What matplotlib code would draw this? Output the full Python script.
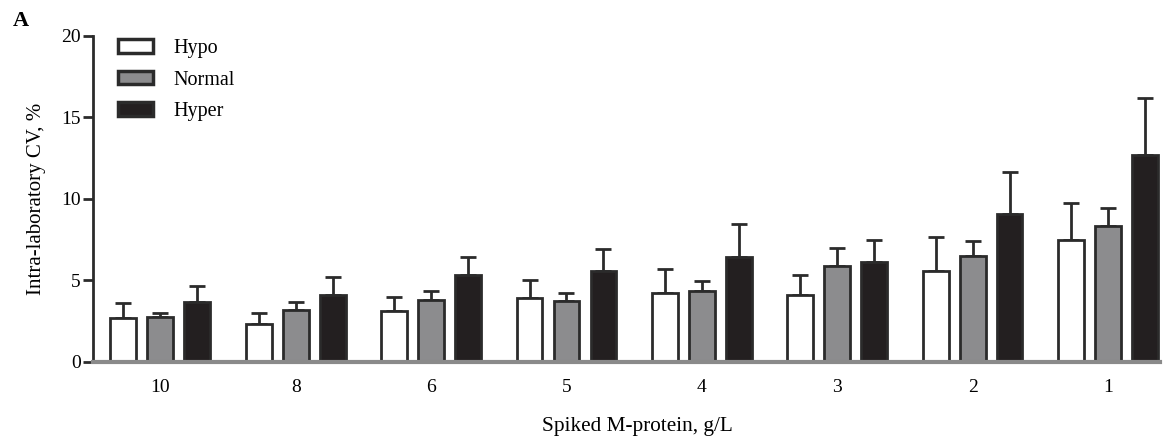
"""
Intra-laboratory CV by spiked M-protein concentration, per serum protein level.
"""
import matplotlib

matplotlib.use("Agg")
import matplotlib.pyplot as plt
import numpy as np
from matplotlib.patches import Patch

plt.rcParams["font.family"] = ["Liberation Serif", "DejaVu Serif"]

concentrations = ["10", "8", "6", "5", "4", "3", "2", "1"]
series_names = ["Hypo", "Normal", "Hyper"]

hypo_cv = [2.7, 2.3, 3.1, 3.9, 4.2, 4.1, 5.6, 7.5]
hypo_sd = [0.9, 0.7, 0.9, 1.1, 1.5, 1.2, 2.05, 2.25]
normal_cv = [2.75, 3.2, 3.8, 3.75, 4.35, 5.85, 6.5, 8.35]
normal_sd = [0.25, 0.5, 0.55, 0.5, 0.6, 1.15, 0.9, 1.1]
hyper_cv = [3.7, 4.1, 5.35, 5.55, 6.45, 6.15, 9.1, 12.7]
hyper_sd = [0.95, 1.1, 1.1, 1.35, 2.0, 1.35, 2.55, 3.5]

fills = ["white", "#8c8c8e", "#231f20"]
edge = "#2b2b2b"

fig = plt.figure(figsize=(11.66, 4.37), dpi=100)
ax = fig.add_axes([0.08, 0.172, 0.915, 0.746])

x = np.arange(len(concentrations))
width = 0.19
offset = 0.273
data = [(hypo_cv, hypo_sd), (normal_cv, normal_sd), (hyper_cv, hyper_sd)]
for k, ((vals, sd), fc) in enumerate(zip(data, fills)):
    pos = x + (k - 1) * offset
    ax.bar(pos, vals, width=width, color=fc, edgecolor=edge, linewidth=2.0, zorder=2)
    # only the upper half of the error bar is shown
    ax.errorbar(pos, vals, yerr=[np.zeros(len(vals)), sd], fmt="none",
                ecolor=edge, elinewidth=2.0, capsize=5.5, capthick=2.0, zorder=1)

ax.set_ylim(0, 20)
ax.set_xlim(-0.495, 7.385)
ax.set_yticks([0, 5, 10, 15, 20])
ax.set_xticks(x)
ax.set_xticklabels(concentrations)
ax.tick_params(axis="x", length=0, pad=12, labelsize=14)
ax.tick_params(axis="y", length=7, width=2, color=edge, labelsize=14, pad=2)

for side in ("top", "right"):
    ax.spines[side].set_visible(False)
ax.spines["left"].set_color(edge)
ax.spines["left"].set_linewidth(2)
ax.spines["bottom"].set_color("#8a8a8a")
ax.spines["bottom"].set_linewidth(3)

ax.set_xlabel("Spiked M-protein, g/L", fontsize=15.3)
ax.xaxis.set_label_coords(0.51, -0.168)
ax.set_ylabel("Intra-laboratory CV, %", fontsize=15, labelpad=11)

handles = [Patch(facecolor=fc, edgecolor=edge, linewidth=2.5) for fc in fills]
ax.legend(handles, series_names, loc="upper left", bbox_to_anchor=(0.006, 1.045),
          frameon=False, fontsize=14.5, handlelength=1.75, handleheight=0.65,
          labelspacing=0.62, handletextpad=1.0)

fig.text(0.011, 0.941, "A", fontsize=16, fontweight="bold")

fig.savefig("out.png", dpi=100)
